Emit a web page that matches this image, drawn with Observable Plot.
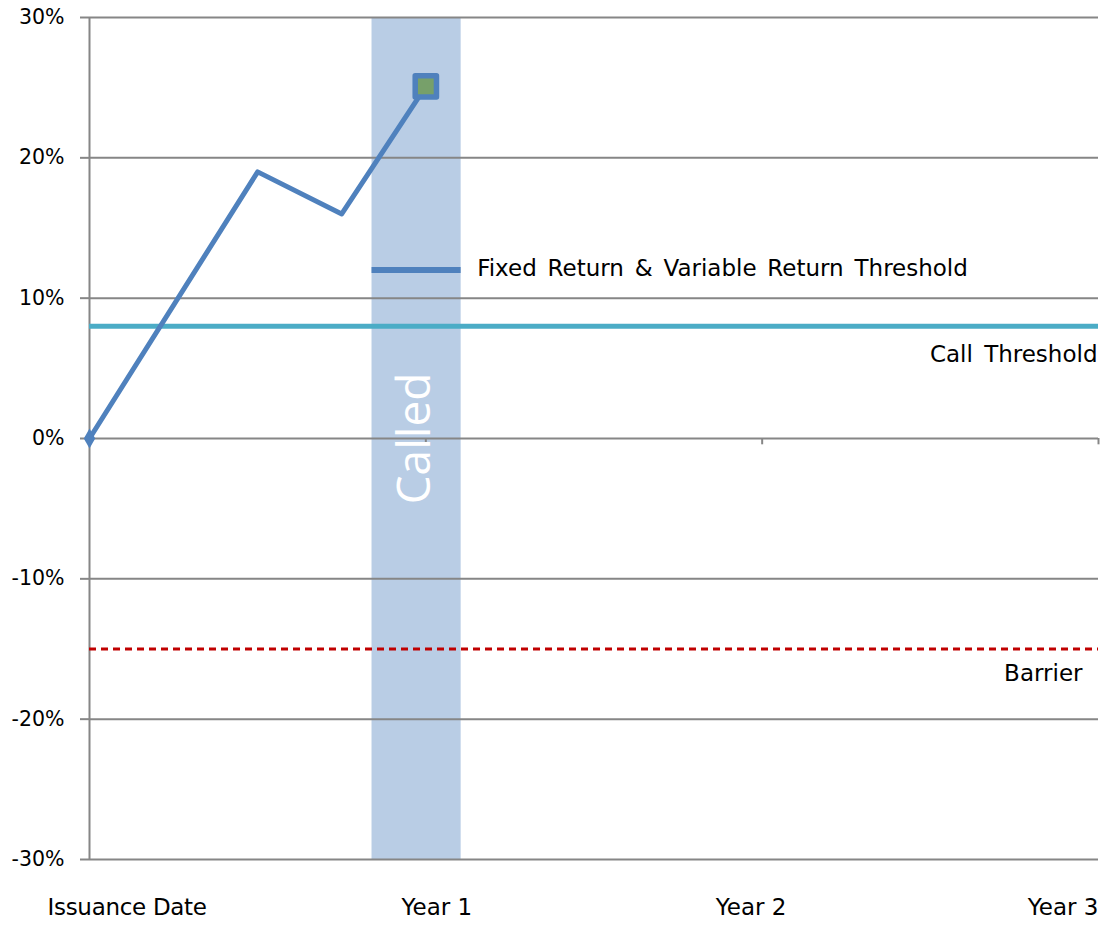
<!DOCTYPE html>
<html>
<head>
<meta charset="utf-8">
<script src="https://cdn.jsdelivr.net/npm/d3@7"></script>
<script src="https://cdn.jsdelivr.net/npm/@observablehq/plot@0.6"></script>
<style>
  html, body { margin: 0; padding: 0; background: #fff; }
  svg { display: block; }
  .ws-fixed text { word-spacing: 3.5px; }
  .ws-call text { word-spacing: 4px; }
  .ws-issue text { letter-spacing: -0.3px; }
</style>
</head>
<body>
<div id="chart"></div>
<script>
// time in years since issuance, return in %
const pathT = [0, 0.5, 0.75, 1];
const pathR = [0, 19, 16, 25.1];
const callThreshold = 8;
const barrier = -15;
const fixedReturn = 12;
const calledBand = [0.84, 1.105];
const yTicks = [-30, -20, -10, 0, 10, 20, 30];
const xTickVals = [0, 1, 2, 3];
const xTickLabels = ["Issuance Date", "Year 1", "Year 2", "Year 3"];

const path = pathT.map((t, i) => ({t, r: pathR[i]}));
const font = "DejaVu Sans, Verdana, sans-serif";
const txt = {fill: "#000", fontFamily: font, fontSize: 23};

const chart = Plot.plot({
  width: 1105,
  height: 927,
  marginLeft: 89,
  marginRight: 7,
  marginTop: 17,
  marginBottom: 68,
  style: {fontFamily: font, fontSize: "20px", color: "#000", background: "#fff"},
  x: {domain: [0, 3], axis: null},
  y: {domain: [-30, 30], axis: null},
  marks: [
    Plot.rect([calledBand], {x1: d => d[0], x2: d => d[1], y1: -30, y2: 30, fill: "#b9cde5"}),
    Plot.ruleY(yTicks, {x1: 0, x2: 3, stroke: "#868686", strokeWidth: 2}),
    Plot.axisY({ticks: yTicks, tickFormat: d => d + "%", tickSize: 9, tickPadding: 16, stroke: "#868686", strokeWidth: 2, fontSize: 20.5, fill: "#000", fontFamily: font, label: null}),
    Plot.ruleX([0], {y1: -30, y2: 30, stroke: "#868686", strokeWidth: 2}),
    Plot.ruleX(xTickVals.slice(1), {y1: 0, y2: -0.45, stroke: "#868686", strokeWidth: 2}),
    Plot.ruleY([callThreshold], {x1: 0, x2: 3, stroke: "#4bacc6", strokeWidth: 5}),
    Plot.ruleY([barrier], {x1: 0, x2: 3, stroke: "#c00000", strokeWidth: 3, strokeDasharray: "7,5"}),
    Plot.ruleY([fixedReturn], {x1: calledBand[0], x2: calledBand[1], stroke: "#4f81bd", strokeWidth: 6}),
    Plot.text(["Called"], {x: (calledBand[0] + calledBand[1]) / 2 - 0.003, y: 0, rotate: -90, fill: "#fff", fontSize: 46, fontFamily: "Open Sans, sans-serif", dy: 0}),
    Plot.line(path, {x: "t", y: "r", stroke: "#4f81bd", strokeWidth: 5}),
    Plot.dot(path.slice(0, 1), {x: "t", y: "r", symbol: "diamond", r: 6, fill: "#4f81bd"}),
    Plot.dot(path.slice(-1), {x: "t", y: "r", symbol: "square", r: 12, fill: "#77a06a", stroke: "#4f81bd", strokeWidth: 5.5, strokeLinejoin: "round"}),
    Plot.text(["Fixed Return & Variable Return Threshold"], {...txt, x: calledBand[1], y: fixedReturn, textAnchor: "start", dx: 16, dy: -1, className: "ws-fixed"}),
    Plot.text(["Call Threshold"], {...txt, x: 3, y: callThreshold, textAnchor: "end", dy: 28, dx: -1, className: "ws-call"}),
    Plot.text(["Barrier"], {...txt, x: 3, y: barrier, textAnchor: "end", dy: 25, dx: -16}),
    Plot.text([xTickLabels[0]], {...txt, x: xTickVals[0], y: -30, textAnchor: "start", dx: -42, dy: 48, className: "ws-issue"}),
    Plot.text([xTickLabels[1]], {...txt, x: xTickVals[1], y: -30, textAnchor: "middle", dx: 11, dy: 48}),
    Plot.text([xTickLabels[2]], {...txt, x: xTickVals[2], y: -30, textAnchor: "middle", dx: -11, dy: 48}),
    Plot.text([xTickLabels[3]], {...txt, x: xTickVals[3], y: -30, textAnchor: "end", dx: 0, dy: 48})
  ]
});
document.getElementById("chart").appendChild(chart);
</script>
</body>
</html>
